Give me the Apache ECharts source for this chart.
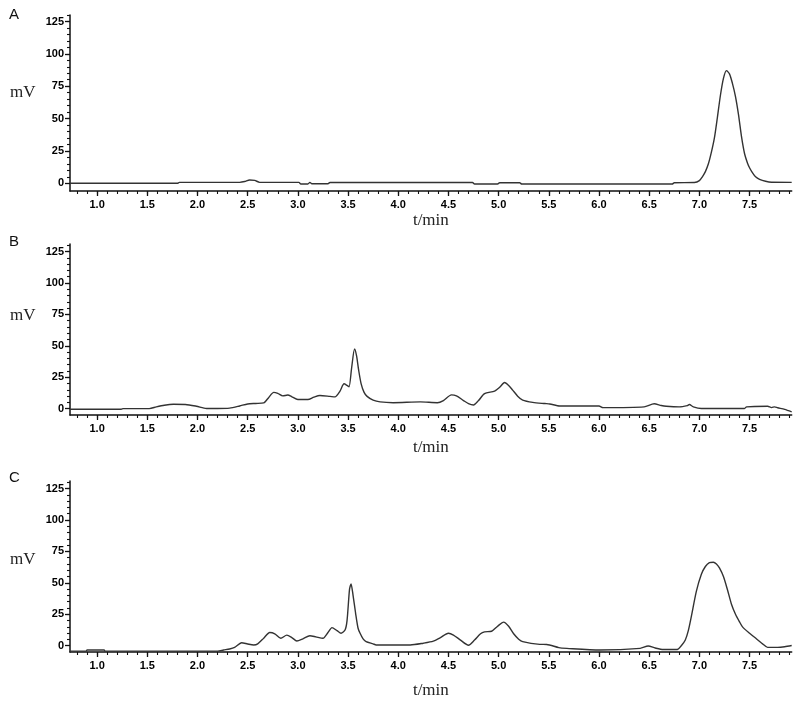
<!DOCTYPE html>
<html>
<head>
<meta charset="utf-8">
<script src="https://cdn.jsdelivr.net/npm/echarts@6/dist/echarts.min.js"></script>
<style>
html,body{margin:0;padding:0;background:#fff;}
#chart{width:800px;height:703px;}
</style>
</head>
<body>
<div id="chart"></div>
<script>
// ---- data ----
const panelLetters = ['A', 'B', 'C'];
const xTickLabels = ['1.0','1.5','2.0','2.5','3.0','3.5','4.0','4.5','5.0','5.5','6.0','6.5','7.0','7.5'];
const yTickLabels = ['0','25','50','75','100','125'];
const xAxisTitle = 't/min';
const yAxisTitle = 'mV';

// [t (min), signal (mV)]
const traceA = [
  [0.73,0],[1.80,0],[1.82,0.7],[2.42,0.7],[2.47,1.3],[2.52,2.5],[2.57,2.2],[2.62,0.7],
  [3.01,0.7],[3.03,-0.6],[3.10,-0.6],[3.12,0.7],[3.14,-0.4],[3.30,-0.4],[3.32,0.6],
  [4.74,0.6],[4.76,-0.6],[4.99,-0.6],[5.01,0.4],[5.21,0.4],[5.23,-0.6],[6.73,-0.6],
  [6.75,0.4],[6.95,0.6],[7.00,2],[7.03,5],[7.06,9],[7.09,15],[7.12,24],[7.15,35],
  [7.18,51],[7.21,68],[7.24,81],[7.27,87],[7.30,84.5],[7.33,77],[7.36,67],[7.39,53],
  [7.42,36],[7.45,23],[7.48,15.5],[7.50,12],[7.53,8],[7.56,5],[7.60,3],[7.66,1.5],
  [7.72,0.8],[7.92,0.7]
];
const traceB = [
  [0.73,-0.4],[1.24,-0.4],[1.26,0.1],[1.52,0.1],[1.59,1.5],[1.67,2.8],[1.76,3.5],[1.88,3.4],
  [1.99,2.0],[2.09,0.2],[2.20,0.2],[2.32,0.5],[2.42,2.2],[2.50,3.8],[2.58,4.2],[2.66,4.6],
  [2.71,9],[2.76,13.0],[2.80,12.2],[2.85,10.2],[2.90,10.9],[2.94,9.5],[3.00,7.3],[3.10,7.3],
  [3.16,9.2],[3.22,10.5],[3.32,9.8],[3.37,9.4],[3.42,14],[3.46,19.8],[3.49,18.5],[3.51,17.4],
  [3.535,32],[3.565,47.5],[3.585,42],[3.605,31],[3.63,20],[3.66,13],[3.69,9.8],[3.75,6.8],
  [3.82,5.4],[3.95,4.8],[4.22,5.4],[4.39,4.8],[4.45,6.5],[4.53,11.0],[4.58,10.2],[4.65,6.5],
  [4.70,4.0],[4.75,3.0],[4.80,6.5],[4.86,12.0],[4.96,14],[5.01,17],[5.06,20.8],[5.10,18.5],
  [5.14,14.8],[5.19,10.0],[5.24,6.8],[5.34,5.0],[5.46,4.1],[5.51,3.8],[5.61,2.2],[6.00,2.2],
  [6.04,0.9],[6.45,1.5],[6.55,3.9],[6.62,2.6],[6.67,2.0],[6.80,1.5],[6.88,2.5],[6.90,3.3],
  [6.94,1.5],[7.02,0.2],[7.45,0.2],[7.47,1.5],[7.68,1.9],[7.72,0.9],[7.75,1.5],[7.78,0.8],
  [7.85,-0.5],[7.92,-2.5]
];
const traceC = [
  [0.73,-4.3],[0.89,-4.3],[0.90,-3.4],[1.07,-3.4],[1.08,-4.3],[2.20,-4.3],[2.26,-3.4],[2.32,-2.6],
  [2.37,-1.3],[2.44,2.4],[2.50,1.4],[2.56,0.6],[2.60,1.5],[2.66,6],[2.72,10.5],[2.77,9.5],
  [2.83,5.9],[2.89,8.4],[2.94,6.5],[2.99,3.8],[3.05,5.5],[3.12,7.9],[3.18,7],[3.25,5.9],
  [3.30,10.5],[3.34,14.4],[3.39,12],[3.43,9.9],[3.47,12.5],[3.49,20],[3.515,45],[3.53,49.2],
  [3.55,40],[3.575,26],[3.60,13.9],[3.62,9.9],[3.65,5.4],[3.68,3.2],[3.75,1.5],[3.78,0.6],
  [4.12,0.6],[4.25,2.0],[4.35,3.6],[4.42,6.5],[4.50,9.9],[4.55,8.5],[4.62,4.5],[4.70,0.4],
  [4.76,4.5],[4.82,9.5],[4.86,11],[4.93,11.5],[4.99,15.5],[5.05,18.8],[5.10,15.5],[5.15,9.5],
  [5.20,5.2],[5.24,3.2],[5.41,1.1],[5.48,1.0],[5.60,-1.5],[5.68,-2.1],[6.01,-3.4],[6.41,-2.1],
  [6.49,-0.2],[6.56,-1.8],[6.64,-3.0],[6.78,-3.0],[6.82,0],[6.86,4.6],[6.89,12],[6.92,23.2],
  [6.97,43.2],[7.02,56.8],[7.06,63],[7.10,66],[7.14,66.4],[7.17,65],[7.20,61.9],[7.24,55],
  [7.28,44.5],[7.32,33],[7.36,25],[7.40,19],[7.43,15],[7.50,9.9],[7.55,6.7],[7.63,1.5],
  [7.68,-1.3],[7.78,-1.3],[7.85,-0.8],[7.92,0.2]
];
const traces = [traceA, traceB, traceC];

// ---- layout / style ----
const X_MIN = 0.73, X_MAX = 7.92;
const panels = [
  { top: 15,  height: 176, ymin: -6, ymax: 130, nameGap: 21, mvY: 93,  letterY: 15 },
  { top: 244, height: 171, ymin: -5, ymax: 131, nameGap: 24, mvY: 316, letterY: 242 },
  { top: 481, height: 171, ymin: -5, ymax: 131, nameGap: 30, mvY: 560, letterY: 478 }
];
const AXIS_COLOR = '#111';
const LINE_COLOR = '#333';
const tickFont = { fontFamily: 'Liberation Sans', fontWeight: 'bold', fontSize: 11, color: '#000' };

const xMajor = xTickLabels.map(Number);
const yMajor = yTickLabels.map(Number);
const xMinor = [];
for (let k = 8; k <= 79; k++) xMinor.push(k / 10);
const yMinor = [];
for (let k = 1; k <= 26; k++) yMinor.push(k * 5);

const grids = [], xAxes = [], yAxes = [], series = [], graphics = [];
panels.forEach((p, i) => {
  grids.push({ left: 70, right: 8.3, top: p.top, height: p.height, containLabel: false });
  // main x axis
  xAxes.push({
    type: 'value', gridIndex: i, position: 'bottom', min: X_MIN, max: X_MAX,
    axisLine: { show: true, onZero: false, lineStyle: { color: AXIS_COLOR, width: 1.5 } },
    axisTick: { show: true, customValues: xMajor, length: 5, lineStyle: { color: AXIS_COLOR, width: 1.3 } },
    axisLabel: Object.assign({ customValues: xMajor, margin: 8, formatter: v => Number(v).toFixed(1) }, tickFont),
    splitLine: { show: false },
    name: xAxisTitle, nameLocation: 'middle', nameGap: p.nameGap,
    nameTextStyle: { fontFamily: 'Liberation Serif', fontSize: 17, color: '#222' }
  });
  // minor x ticks
  xAxes.push({
    type: 'value', gridIndex: i, position: 'bottom', min: X_MIN, max: X_MAX,
    axisLine: { show: false, onZero: false },
    axisTick: { show: true, customValues: xMinor, length: 3, lineStyle: { color: AXIS_COLOR, width: 1.1 } },
    axisLabel: { show: false }, splitLine: { show: false }
  });
  // main y axis
  yAxes.push({
    type: 'value', gridIndex: i, position: 'left', min: p.ymin, max: p.ymax,
    axisLine: { show: true, onZero: false, lineStyle: { color: AXIS_COLOR, width: 1.5 } },
    axisTick: { show: true, customValues: yMajor, length: 5, lineStyle: { color: AXIS_COLOR, width: 1.3 } },
    axisLabel: Object.assign({ customValues: yMajor, margin: 6 }, tickFont),
    splitLine: { show: false }
  });
  // minor y ticks
  yAxes.push({
    type: 'value', gridIndex: i, position: 'left', min: p.ymin, max: p.ymax,
    axisLine: { show: false, onZero: false },
    axisTick: { show: true, customValues: yMinor, length: 3, lineStyle: { color: AXIS_COLOR, width: 1.1 } },
    axisLabel: { show: false }, splitLine: { show: false }
  });
  series.push({
    type: 'line', xAxisIndex: 2 * i, yAxisIndex: 2 * i, data: traces[i],
    showSymbol: false, smooth: 0.25, clip: true,
    lineStyle: { color: LINE_COLOR, width: 1.4 }
  });
  graphics.push({
    type: 'text', left: 10, top: p.mvY - 9,
    style: { text: yAxisTitle, fontFamily: 'Liberation Serif', fontSize: 17, fill: '#222' }
  });
  graphics.push({
    type: 'text', left: 9, top: p.letterY - 8,
    style: { text: panelLetters[i], fontFamily: 'Liberation Sans', fontSize: 15, fill: '#111' }
  });
});

const chart = echarts.init(document.getElementById('chart'), null, { renderer: 'canvas' });
chart.setOption({
  animation: false,
  backgroundColor: '#fff',
  grid: grids,
  xAxis: xAxes,
  yAxis: yAxes,
  series: series,
  graphic: graphics
});
</script>
</body>
</html>
